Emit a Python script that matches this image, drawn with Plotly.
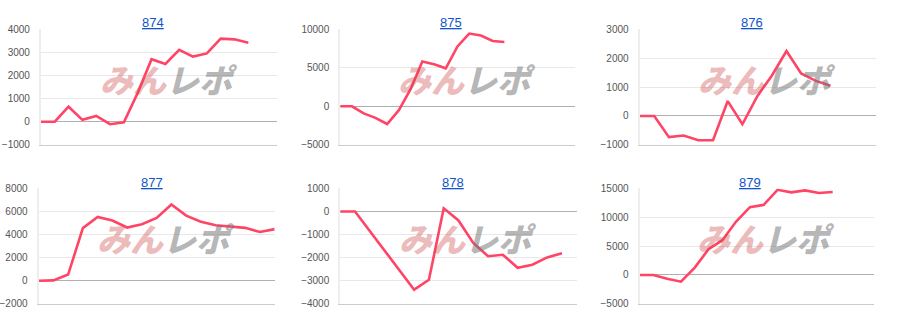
import plotly.graph_objects as go

W, H = 900, 330

titles = ["874", "875", "876", "877", "878", "879"]
v874 = [0, 0, 650, 80, 250, -110, -30, 1250, 2710, 2500, 3110, 2820, 2960, 3600, 3570, 3420]
v875 = [0, 0, -920, -1500, -2300, -500, 2220, 5820, 5480, 4940, 7780, 9460, 9200, 8490, 8370]
v876 = [0, 0, -735, -680, -845, -845, 515, -290, 670, 1395, 2250, 1470, 1215, 1045]
v877 = [0, 30, 530, 4560, 5530, 5220, 4610, 4890, 5440, 6610, 5640, 5110, 4810, 4720, 4580, 4220, 4470]
v878 = [0, 0, None, None, None, -3390, -2960, 140, -390, -1360, -1940, -1875, -2440, -2310, -1990, -1810]
v879 = [0, 0, -670, -1170, 1280, 4460, 6020, 9250, 11750, 12150, 14760, 14320, 14650, 14210, 14370]
series = [v874, v875, v876, v877, v878, v879]

x_max = [17.1, 20, 16.1, 16, 16, 17]
y_ranges = [(-1000, 4000), (-5000, 10000), (-1000, 3000), (-2000, 8000), (-4000, 1000), (-5000, 15000)]
y_dtick = [1000, 5000, 1000, 2000, 1000, 5000]

# plot areas in pixels: (left, right, top, bottom)
boxes = [
    (39, 276, 24.3, 144),
    (339, 574, 24.3, 144),
    (639, 876, 24.3, 144),
    (36.7, 273.3, 189.3, 309),
    (339, 576, 189.3, 309),
    (639, 874, 189.3, 309),
]
title_pos = [(151.7, 7), (450, 7), (751.7, 7), (150, 173), (451.7, 173), (750, 173)]

LINE = "#ff4466"
PINK = "rgba(205,75,75,0.40)"
GREY = "rgba(120,120,120,0.55)"
fig = go.Figure()
annotations = []
for i, (name, vals) in enumerate(zip(titles, series)):
    n = i + 1
    xa = "x" if n == 1 else f"x{n}"
    ya = "y" if n == 1 else f"y{n}"
    l, r, t, b = boxes[i]
    fig.add_trace(go.Scatter(
        x=list(range(len(vals))), y=vals, mode="lines", connectgaps=True,
        line=dict(color=LINE, width=2.6), xaxis=xa, yaxis=ya,
        hoverinfo="skip", showlegend=False,
    ))
    fig.layout[f"xaxis{'' if n == 1 else n}"] = dict(
        domain=[l / W, r / W], range=[0, x_max[i]], anchor=ya,
        showgrid=False, zeroline=False, showticklabels=False, ticks="",
        showline=True, linecolor="#cccccc", linewidth=1, fixedrange=True,
    )
    fig.layout[f"yaxis{'' if n == 1 else n}"] = dict(
        domain=[1 - b / H, 1 - t / H], range=list(y_ranges[i]), dtick=y_dtick[i],
        tickformat="d",
        anchor=xa, showgrid=True, gridcolor="#e8e8e8", gridwidth=1,
        zeroline=True, zerolinecolor="#b0b0b0", zerolinewidth=1,
        showline=True, linecolor="#eeeeee", linewidth=2, ticks="",
        tickfont=dict(family="Arial, Liberation Sans", size=10, color="#555555"),
        ticklabelstandoff=7, fixedrange=True,
    )
    tx, ty = title_pos[i]
    annotations.append(dict(
        text=f"<u>{name}</u>", x=tx / W, y=1 - ty / H, xref="paper", yref="paper",
        showarrow=False, xanchor="center", yanchor="top",
        font=dict(family="Arial, Liberation Sans", size=13, color="#1155cc"),
    ))
    # watermark
    annotations.append(dict(
        text=(f"<span style='color:{PINK}'>みん</span>"
              f"<span style='color:{GREY}'>レポ</span>"),
        x=0.54, y=0.57, xref=f"{xa} domain", yref=f"{ya} domain",
        showarrow=False, xanchor="center", yanchor="middle",
        font=dict(family="Noto Sans CJK JP", size=33, weight=900, style="italic",
                  color="#000000"),
    ))

fig.update_layout(
    width=W, height=H, margin=dict(l=0, r=0, t=0, b=0),
    paper_bgcolor="white", plot_bgcolor="white",
    annotations=annotations,
)
fig.write_html("out.html")
